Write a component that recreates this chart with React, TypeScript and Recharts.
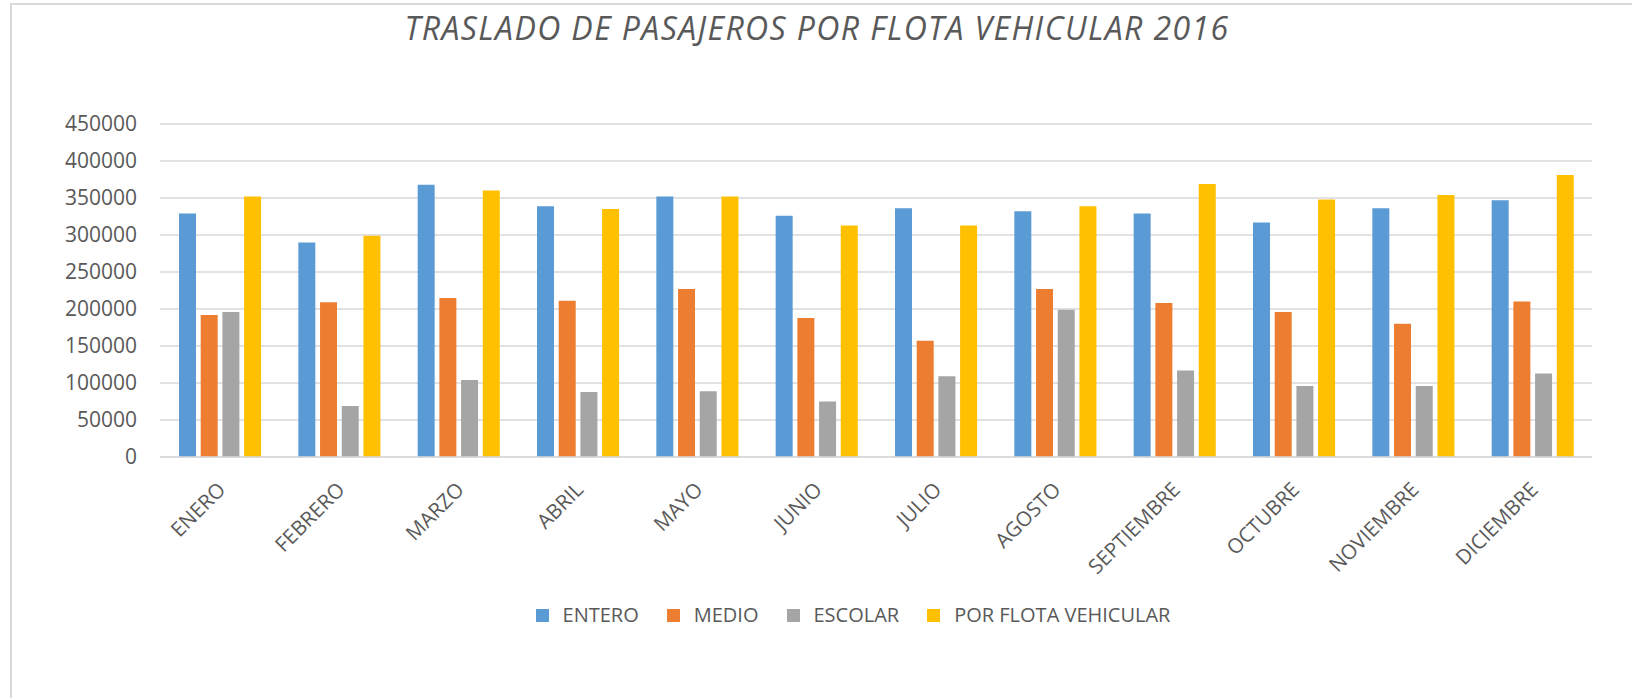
import React from 'react'
import { Bar, BarChart, CartesianGrid, Legend, XAxis, YAxis } from 'recharts'

const months = [
  'ENERO',
  'FEBRERO',
  'MARZO',
  'ABRIL',
  'MAYO',
  'JUNIO',
  'JULIO',
  'AGOSTO',
  'SEPTIEMBRE',
  'OCTUBRE',
  'NOVIEMBRE',
  'DICIEMBRE',
]

const entero = [329000, 290000, 368000, 339000, 352000, 326000, 336000, 332000, 329000, 317000, 336000, 347000]
const medio = [192000, 209000, 215000, 211000, 227000, 188000, 157000, 227000, 208000, 196000, 180000, 210000]
const escolar = [196000, 69000, 104000, 88000, 89000, 75000, 109000, 199000, 117000, 96000, 96000, 113000]
const flota = [352000, 299000, 360000, 335000, 352000, 313000, 313000, 339000, 369000, 348000, 354000, 381000]

const yTicks = [0, 50000, 100000, 150000, 200000, 250000, 300000, 350000, 400000, 450000]

const series = [
  { key: 'entero', name: 'ENTERO', color: '#5B9BD5' },
  { key: 'medio', name: 'MEDIO', color: '#ED7D31' },
  { key: 'escolar', name: 'ESCOLAR', color: '#A5A5A5' },
  { key: 'flota', name: 'POR FLOTA VEHICULAR', color: '#FFC000' },
]

const data = months.map((m, i) => ({
  month: m,
  entero: entero[i],
  medio: medio[i],
  escolar: escolar[i],
  flota: flota[i],
}))

const FONT = "'Open Sans', sans-serif"
const TEXT = '#595959'

const MonthTick = (props: any) => {
  const { x, y, payload } = props
  return (
    <g transform={`translate(${x + 7},${y + 34})`}>
      <text
        transform="rotate(-45)"
        textAnchor="end"
        fill={TEXT}
        fontSize={20.5}
        fontFamily={FONT}
      >
        {payload.value}
      </text>
    </g>
  )
}

const renderLegend = () => (
  <div
    style={{
      display: 'flex',
      justifyContent: 'center',
      alignItems: 'center',
      fontFamily: FONT,
      fontSize: 20,
      color: TEXT,
      lineHeight: '24px',
    }}
  >
    {series.map((s, i) => (
      <div
        key={s.key}
        style={{ display: 'flex', alignItems: 'center', marginLeft: i === 0 ? 0 : 28 }}
      >
        <span style={{ width: 13, height: 13, background: s.color, marginRight: 14 }} />
        <span>{s.name}</span>
      </div>
    ))}
  </div>
)

export default function App() {
  return (
    <div
      style={{
        position: 'absolute',
        left: 0,
        top: 0,
        width: 1632,
        height: 698,
        background: '#fff',
        overflow: 'hidden',
      }}
    >
      <div
        style={{
          position: 'absolute',
          left: 10,
          top: 3,
          width: 1640,
          height: 720,
          borderTop: '2px solid #d9d9d9',
          borderLeft: '2px solid #d9d9d9',
        }}
      />
      <div
        style={{
          position: 'absolute',
          left: 0,
          top: 12,
          width: 1634,
          textAlign: 'center',
          fontFamily: FONT,
          fontStyle: 'italic',
          fontSize: 32,
          lineHeight: '32px',
          letterSpacing: 1.4,
          color: TEXT,
        }}
      >
        TRASLADO DE PASAJEROS POR FLOTA VEHICULAR 2016
      </div>
      <div style={{ position: 'absolute', left: 0, top: 0 }}>
        <BarChart
          width={1632}
          height={698}
          data={data}
          margin={{ top: 124, right: 40, bottom: 101, left: 0 }}
          barGap={4.7}
          barSize={17}
        >
          <CartesianGrid vertical={false} stroke="#d9d9d9" strokeWidth={1.5} />
          <XAxis
            dataKey="month"
            height={140}
            interval={0}
            tickSize={0}
            tickMargin={0}
            axisLine={{ stroke: '#d9d9d9', strokeWidth: 1.5 }}
            tickLine={false}
            tick={<MonthTick />}
          />
          <YAxis
            width={160}
            domain={[0, 450000]}
            ticks={yTicks}
            interval={0}
            axisLine={false}
            tickLine={false}
            tickSize={0}
            tickMargin={23}
            tick={{ fill: TEXT, fontSize: 21, fontFamily: FONT }}
          />
          <Legend
            layout="horizontal"
            verticalAlign="middle"
            align="center"
            content={renderLegend}
            wrapperStyle={{ position: 'absolute', top: 603, left: 37, width: 1632 }}
          />
          {series.map((s) => (
            <Bar
              key={s.key}
              dataKey={s.key}
              name={s.name}
              fill={s.color}
              isAnimationActive={false}
            />
          ))}
        </BarChart>
      </div>
    </div>
  )
}
